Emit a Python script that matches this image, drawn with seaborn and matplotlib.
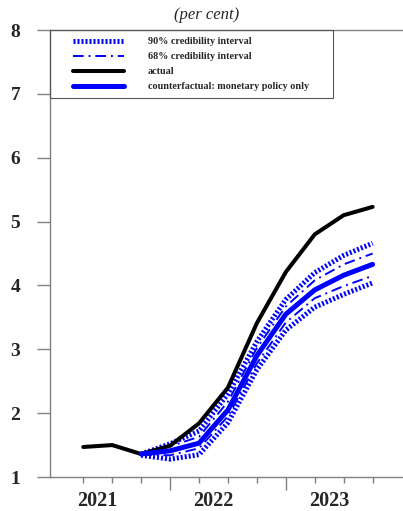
import matplotlib
matplotlib.use("Agg")
import matplotlib.pyplot as plt
from matplotlib.patches import Rectangle
import numpy as np
import seaborn as sns

# quarterly observations, 2021 to 2023
actual = [1.47, 1.50, 1.36, 1.49, 1.84, 2.40, 3.41, 4.21, 4.80, 5.10, 5.23]
# counterfactual paths start at the third quarter shown
counterfactual = [1.36, 1.41, 1.53, 2.05, 2.90, 3.55, 3.93, 4.16, 4.33]
upper_90 = [1.36, 1.52, 1.72, 2.30, 3.12, 3.78, 4.20, 4.47, 4.66]
lower_90 = [1.34, 1.28, 1.35, 1.85, 2.68, 3.30, 3.66, 3.86, 4.04]
upper_68 = [1.36, 1.48, 1.63, 2.18, 3.02, 3.67, 4.08, 4.33, 4.50]
lower_68 = [1.35, 1.34, 1.45, 1.95, 2.78, 3.42, 3.80, 3.99, 4.15]
years = ["2021", "2022", "2023"]

sns.set_style("white")
plt.rcParams["font.family"] = ["Liberation Serif", "DejaVu Serif"]

t = np.arange(len(actual))
t_cf = t[len(actual) - len(counterfactual):]

fig = plt.figure(figsize=(4.03, 5.11), dpi=100)
ax = fig.add_axes([50 / 403, 1 - 477 / 511, 353 / 403, 447 / 511])

blue = "#0000ff"
grey = "#808080"
dotted = (0, (0.4, 0.4))
dashdot = (0, (5.5, 2.5, 1.0, 2.5))

sns.lineplot(x=t_cf, y=upper_90, ax=ax, color=blue, linewidth=3.6,
             linestyle=dotted, dash_capstyle="butt", label="90% credibility interval")
sns.lineplot(x=t_cf, y=lower_90, ax=ax, color=blue, linewidth=3.6,
             linestyle=dotted, dash_capstyle="butt")
sns.lineplot(x=t_cf, y=upper_68, ax=ax, color=blue, linewidth=1.4,
             linestyle=dashdot, label="68% credibility interval")
sns.lineplot(x=t_cf, y=lower_68, ax=ax, color=blue, linewidth=1.4,
             linestyle=dashdot)
sns.lineplot(x=t, y=actual, ax=ax, color="black", linewidth=2.9, label="actual")
sns.lineplot(x=t_cf, y=counterfactual, ax=ax, color=blue, linewidth=3.6,
             label="counterfactual: monetary policy only")

ax.set_xlim(-1.15, 11.05)
ax.set_ylim(1, 8)
ax.set_yticks(range(1, 9))
ax.set_yticklabels([str(v) for v in range(1, 9)], fontsize=14, fontweight="bold")
ax.tick_params(axis="y", length=9.4, width=1, color=grey, pad=12, left=True)

# long ticks at year boundaries, short ticks each quarter
ax.set_xticks([3, 7])
ax.set_xticks([q for q in t if q not in (3, 7)], minor=True)
ax.set_xticklabels([])
ax.tick_params(axis="x", which="major", length=9.4, width=1, color=grey, bottom=True)
ax.tick_params(axis="x", which="minor", length=4.3, width=1, color=grey, bottom=True)
for i, yr in enumerate(years):
    ax.text(0.5 + 4 * i, -0.065, yr, transform=ax.get_xaxis_transform(),
            ha="center", va="baseline", fontsize=14.5, fontweight="bold")

for side in ["left", "bottom", "top"]:
    ax.spines[side].set_visible(True)
    ax.spines[side].set_color(grey)
    ax.spines[side].set_linewidth(1)
ax.spines["right"].set_visible(False)

# legend without its own frame, boxed by a rectangle flush with the left axis
leg = ax.legend(loc="upper left", bbox_to_anchor=(16 / 353, 1),
                borderaxespad=0, frameon=False,
                prop={"weight": "bold", "size": 7.3}, handlelength=5.0,
                handletextpad=2.35, labelspacing=0.58, borderpad=0.7)
ax.add_patch(Rectangle((0, 0.848), 0.802, 0.152, transform=ax.transAxes,
                       fill=False, edgecolor="#555555", linewidth=0.8,
                       clip_on=False, zorder=5))

fig.text(0.513, 0.97, "(per cent)", ha="center", va="center",
         fontsize=12, fontstyle="italic")

fig.savefig("out.png", dpi=100)
plt.close(fig)
